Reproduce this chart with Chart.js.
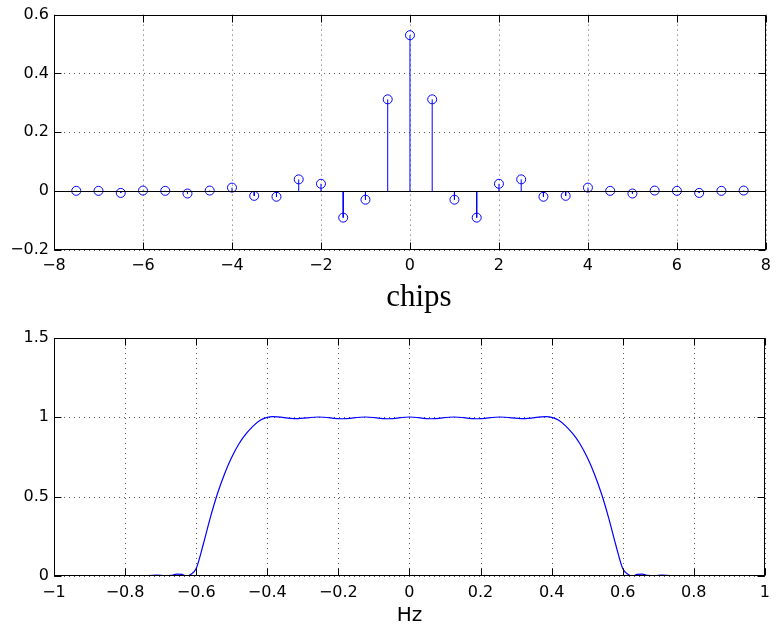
<!DOCTYPE html>
<html>
<head>
<meta charset="utf-8">
<script src="https://cdn.jsdelivr.net/npm/chart.js@4/dist/chart.umd.min.js"></script>
<style>
  html, body { margin: 0; padding: 0; background: #fff; }
  #wrap { position: relative; width: 777px; height: 630px; }
  canvas { position: absolute; left: 0; }
  #tapsCanvas { top: 0; }
  #respCanvas { top: 315px; }
</style>
</head>
<body>
<div id="wrap">
  <canvas id="tapsCanvas" width="777" height="315" style="width:777px;height:315px"></canvas>
  <canvas id="respCanvas" width="777" height="315" style="width:777px;height:315px"></canvas>
</div>
<script>
// Filter taps, sampled every half chip
const chipOffsets = [-7.5, -7, -6.5, -6, -5.5, -5, -4.5, -4, -3.5, -3, -2.5, -2, -1.5, -1, -0.5,
                     0, 0.5, 1, 1.5, 2, 2.5, 3, 3.5, 4, 4.5, 5, 5.5, 6, 6.5, 7, 7.5];
const tapValues = [0.001, 0.001, -0.006, 0.002, 0.001, -0.008, 0.002, 0.012, -0.016, -0.019, 0.040, 0.025, -0.090, -0.029, 0.312,
                   0.530, 0.312, -0.029, -0.090, 0.025, 0.040, -0.019, -0.016, 0.012, 0.001, -0.008, 0.002, 0.001, -0.006, 0.001, 0.002];

// Magnitude of the frequency response
const freqHz = [-1, -0.9, -0.8, -0.75, -0.71, -0.69, -0.67, -0.655, -0.64, -0.628, -0.615, -0.6, -0.58, -0.56, -0.54,
                -0.52, -0.5, -0.48, -0.46, -0.44, -0.42, -0.4, -0.385, -0.32, -0.255, -0.19, -0.125, -0.06,
                0, 0.06, 0.125, 0.19, 0.255, 0.32, 0.385, 0.4, 0.42, 0.44, 0.46, 0.48, 0.5, 0.52,
                0.54, 0.56, 0.58, 0.6, 0.615, 0.628, 0.64, 0.655, 0.67, 0.69, 0.71, 0.75, 0.8, 0.9, 1];
const magnitude = [0, 0, 0, 0.001, 0.005, 0.002, 0.004, 0.012, 0.01, 0, 0.01, 0.047, 0.20, 0.37, 0.52,
                   0.645, 0.748, 0.832, 0.895, 0.945, 0.982, 1.0, 1.004, 0.992, 1.002, 0.991, 1.002, 0.991,
                   1.002, 0.991, 1.002, 0.991, 1.002, 0.992, 1.004, 1.0, 0.982, 0.945, 0.895, 0.832, 0.748, 0.645,
                   0.52, 0.37, 0.20, 0.047, 0.01, 0, 0.01, 0.012, 0.004, 0.002, 0.005, 0.001, 0, 0, 0];

// Axis ticks
const tapXTicks = { min: -8, max: 8, step: 2 };
const tapYTicks = { min: -0.2, max: 0.6, step: 0.2 };
const respXTicks = { min: -1, max: 1, step: 0.2 };
const respYTicks = { min: 0, max: 1.5, step: 0.5 };

const BLUE = '#0000ff';
const TICK_FONT = { family: '"DejaVu Sans", sans-serif', size: 16 };

function fmt(v) {
  const r = Math.round(v * 1000) / 1000;
  const s = String(Math.abs(r));
  return r < 0 ? '\u2212' + s : s;
}

// Dotted grid, boxed axes with inward ticks, optional zero baseline and axis label
const frame = {
  id: 'frame',
  beforeDatasetsDraw(chart) {
    const { ctx, chartArea: a, scales: { x, y } } = chart;
    ctx.save();
    ctx.strokeStyle = 'rgba(0,0,0,0.65)';
    ctx.lineWidth = 1;
    ctx.setLineDash([1, 4]);
    x.ticks.forEach(t => {
      const px = Math.round(x.getPixelForValue(t.value)) + 0.5;
      ctx.beginPath(); ctx.moveTo(px, a.top); ctx.lineTo(px, a.bottom); ctx.stroke();
    });
    y.ticks.forEach(t => {
      const py = Math.round(y.getPixelForValue(t.value)) + 0.5;
      ctx.beginPath(); ctx.moveTo(a.left, py); ctx.lineTo(a.right, py); ctx.stroke();
    });
    ctx.restore();
  },
  afterDatasetsDraw(chart, args, opts) {
    const { ctx, chartArea: a, scales: { x, y } } = chart;
    ctx.save();
    ctx.strokeStyle = '#000';
    ctx.lineWidth = 1;
    if (opts.baseline) {
      const py = Math.round(y.getPixelForValue(0)) + 0.5;
      ctx.beginPath(); ctx.moveTo(a.left, py); ctx.lineTo(a.right, py); ctx.stroke();
    }
    const L = Math.round(a.left) + 0.5, R = Math.round(a.right) - 0.5;
    const T = Math.round(a.top) + 0.5, B = Math.round(a.bottom) - 0.5;
    ctx.strokeRect(L, T, R - L, B - T);
    const tl = 7;
    ctx.beginPath();
    x.ticks.forEach(t => {
      const px = Math.round(x.getPixelForValue(t.value)) + 0.5;
      ctx.moveTo(px, B); ctx.lineTo(px, B - tl);
      ctx.moveTo(px, T); ctx.lineTo(px, T + tl);
    });
    y.ticks.forEach(t => {
      const py = Math.round(y.getPixelForValue(t.value)) + 0.5;
      ctx.moveTo(L, py); ctx.lineTo(L + tl, py);
      ctx.moveTo(R, py); ctx.lineTo(R - tl, py);
    });
    ctx.stroke();
    if (opts.label) {
      ctx.fillStyle = '#000';
      ctx.font = opts.label.font;
      ctx.textAlign = 'center';
      ctx.textBaseline = 'alphabetic';
      ctx.fillText(opts.label.text, (a.left + a.right) / 2 + opts.label.dx, a.bottom + opts.label.dy);
    }
    ctx.restore();
  }
};

function axes(xt, yt, xHeight, xPad) {
  const noGrid = { display: false, drawTicks: false, tickLength: 0 };
  return {
    x: {
      type: 'linear', min: xt.min, max: xt.max,
      grid: noGrid, border: { display: false },
      ticks: { stepSize: xt.step, color: '#000', font: TICK_FONT, padding: xPad, maxRotation: 0, autoSkip: false,
               callback: v => fmt(v) },
      afterFit: s => { s.height = xHeight; }
    },
    y: {
      type: 'linear', min: yt.min, max: yt.max,
      grid: noGrid, border: { display: false },
      ticks: { stepSize: yt.step, color: '#000', font: TICK_FONT, padding: 5, autoSkip: false,
               callback: v => fmt(v) },
      afterFit: s => { s.width = 54; }
    }
  };
}

const common = {
  responsive: false,
  animation: false,
  events: [],
  plugins: { legend: { display: false }, tooltip: { enabled: false } }
};

// Stems: a segment from 0 to each tap, separated by gaps
const stemPoints = chipOffsets.flatMap((c, i) => [{ x: c, y: 0 }, { x: c, y: tapValues[i] }, { x: c, y: NaN }]);
const markerPoints = chipOffsets.map((c, i) => ({ x: c, y: tapValues[i] }));

new Chart(document.getElementById('tapsCanvas'), {
  type: 'scatter',
  data: {
    datasets: [
      { data: stemPoints, showLine: true, spanGaps: false, borderColor: BLUE, borderWidth: 1, pointRadius: 0 },
      { data: markerPoints, pointStyle: 'circle', pointRadius: 4.5, borderColor: BLUE, borderWidth: 1,
        backgroundColor: 'rgba(0,0,0,0)' }
    ]
  },
  options: Object.assign({}, common, {
    layout: { padding: { left: 0, right: 9.5, top: 13.5, bottom: 0 } },
    scales: axes(tapXTicks, tapYTicks, 65, 6),
    plugins: Object.assign({}, common.plugins, {
      frame: { baseline: true, label: { text: 'chips', font: '31px "Liberation Serif", serif', dx: 9, dy: 56 } }
    })
  }),
  plugins: [frame]
});

new Chart(document.getElementById('respCanvas'), {
  type: 'scatter',
  data: {
    datasets: [
      { data: freqHz.map((f, i) => ({ x: f, y: magnitude[i] })), showLine: true, cubicInterpolationMode: 'monotone',
        borderColor: BLUE, borderWidth: 1.2, pointRadius: 0 }
    ]
  },
  options: Object.assign({}, common, {
    layout: { padding: { left: 0, right: 9.5, top: 23, bottom: 0 } },
    scales: axes(respXTicks, respYTicks, 54, 7),
    plugins: Object.assign({}, common.plugins, {
      frame: { baseline: false, label: { text: 'Hz', font: '20px "DejaVu Sans", sans-serif', dx: 0, dy: 45 } }
    })
  }),
  plugins: [frame]
});
</script>
</body>
</html>
